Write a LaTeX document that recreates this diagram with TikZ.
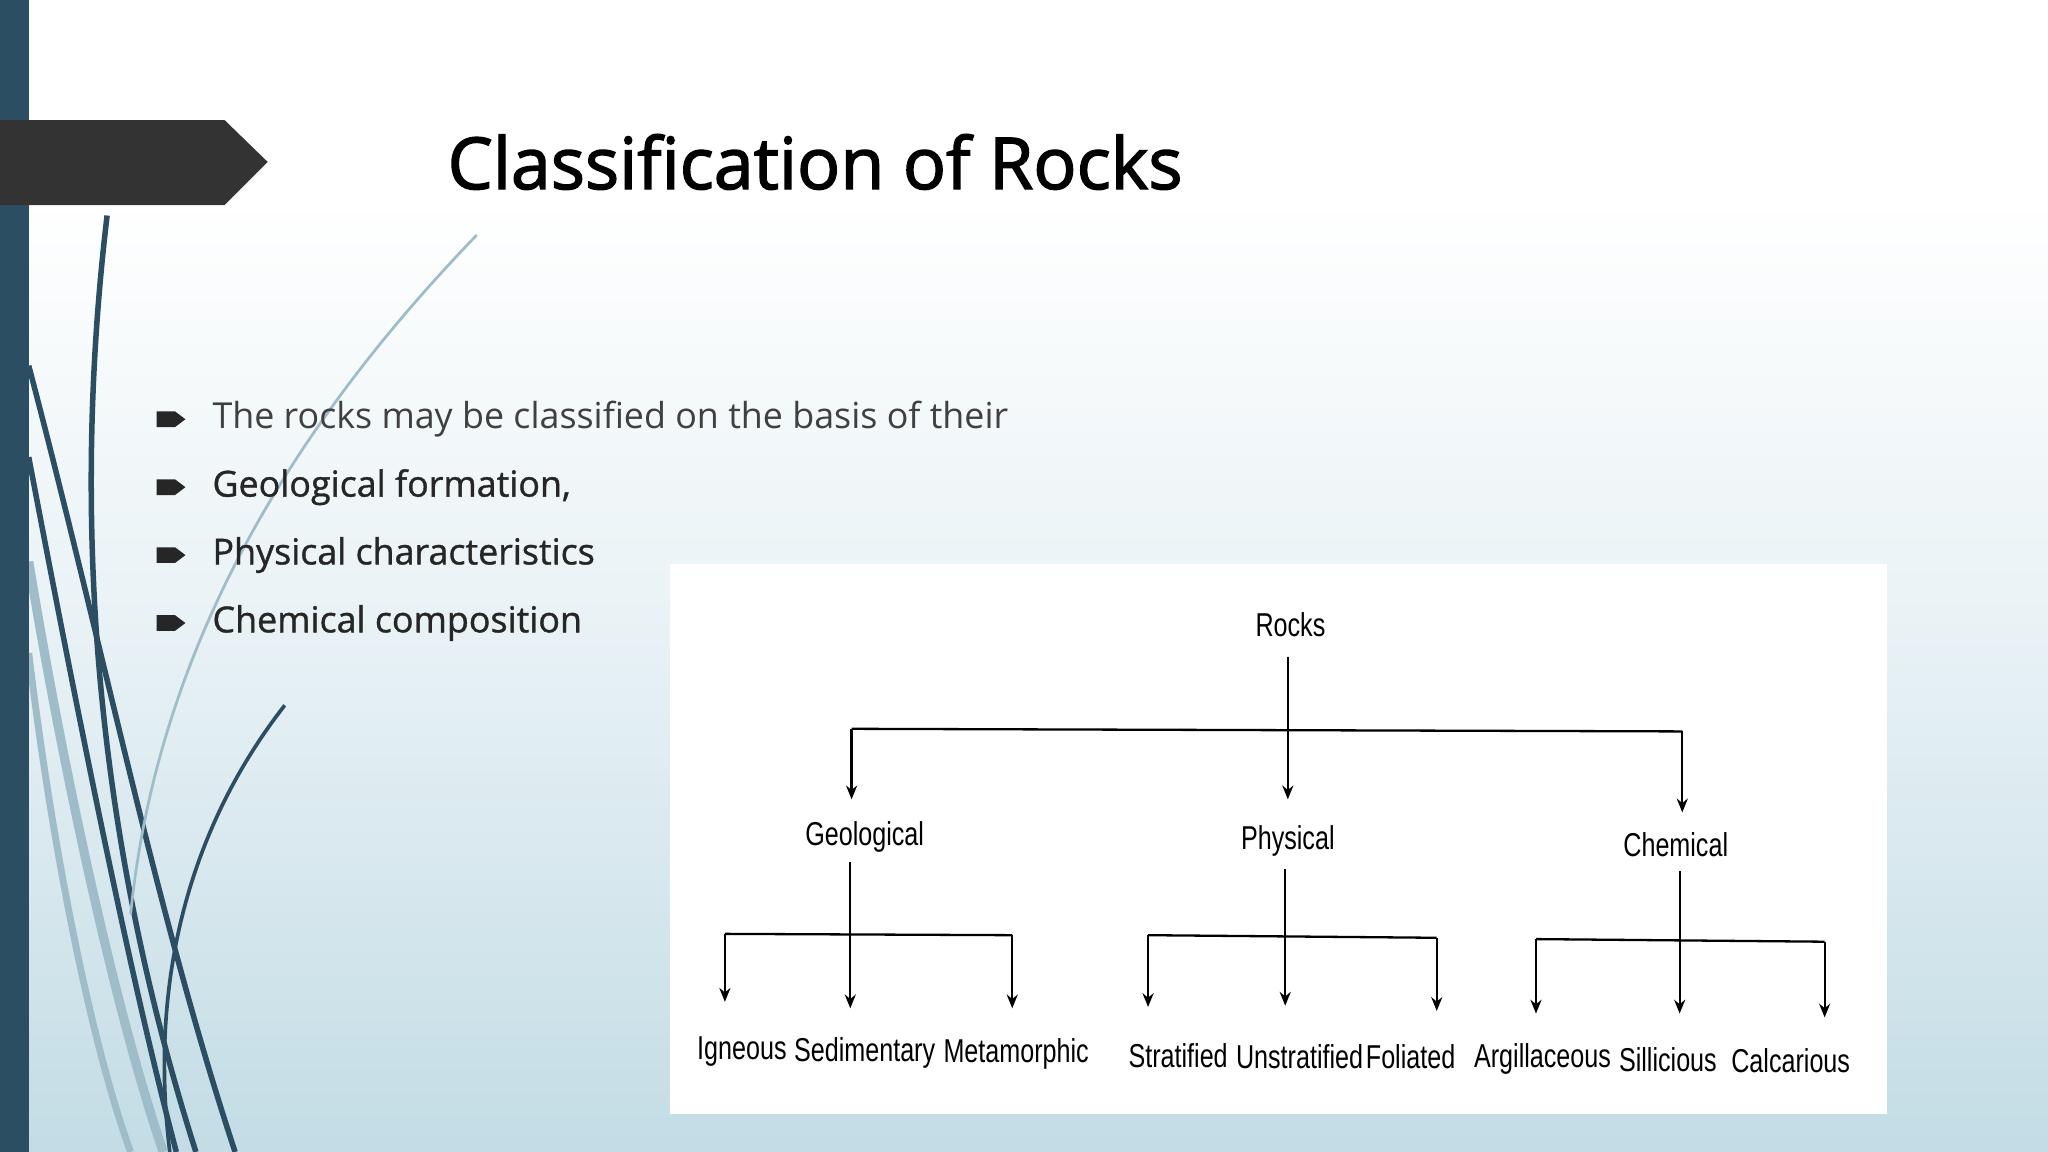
\documentclass[tikz,border=0pt]{standalone}
\usepackage{fontspec}
\usepackage{graphicx}
\setmainfont{Open Sans}
\newfontfamily\semib[FakeBold=2]{Open Sans}
\newfontfamily\semibt[FakeBold=1]{Open Sans}
\newfontfamily\diag{Liberation Sans}
\usetikzlibrary{arrows.meta}
\definecolor{bgb}{HTML}{C3DCE5}
\definecolor{bar}{HTML}{2C4E62}
\definecolor{curveA}{HTML}{2C4E62}
\definecolor{curveB}{HTML}{9FBCC9}
\definecolor{txt}{HTML}{404040}
\newcommand{\nar}[1]{\scalebox{0.76}[1]{#1}}
\tikzset{
 lbl/.style={font=\diag\fontsize{7.2}{8}\selectfont, inner sep=0pt},
 conn/.style={line width=0.5pt, black},
 arr/.style={conn, -{Stealth[length=3pt,width=2.4pt]}},
 bul/.style={anchor=west, font=\fontsize{7.8}{10}\selectfont, inner sep=0pt, text=txt},
}
\begin{document}
\begin{tikzpicture}[x=0.01cm,y=-0.01cm]
\useasboundingbox (0,0) rectangle (1568,882);
\fill[white] (0,0) rectangle (1568,150);
\shade[top color=white, bottom color=white!60!bgb] (0,150) rectangle (1568,500);
\shade[top color=white!60!bgb, bottom color=bgb] (0,500) rectangle (1568,882);
% curves
\draw[curveA, line width=1.2pt] (82,165) .. controls (60,350) and (60,600) .. (150,882);
\draw[curveA, line width=1.2pt] (22,280) .. controls (80,500) and (120,700) .. (180,882);
\draw[curveA, line width=1.2pt] (22,350) .. controls (60,550) and (100,750) .. (135,882);
\draw[curveA, line width=0.8pt] (218,540) .. controls (140,640) and (115,760) .. (130,882);
\draw[curveB, line width=2pt] (22,430) .. controls (50,600) and (90,780) .. (125,882);
\draw[curveB, line width=1.5pt] (22,500) .. controls (40,650) and (70,800) .. (100,882);
\draw[curveB, line width=0.6pt] (365,180) .. controls (220,330) and (120,500) .. (100,700);
\fill[bar] (0,0) rectangle (22,882);
\fill[black!80] (0,92) -- (172,92) -- (205,124) -- (172,157) -- (0,157) -- cycle;
\node[anchor=west, inner sep=0pt, font=\semib\fontsize{15.6}{20}\selectfont] (title) at (342,124) {Classification of Rocks};
\foreach \yy/\t [count=\i] in {321/{The rocks may be classified on the basis of their},373/{\semibt\textcolor{black!85}{Geological formation,}},425/{\semibt\textcolor{black!85}{Physical characteristics}},477/{\semibt\textcolor{black!85}{Chemical composition}}}{
 \node[bul] (b\i) at (162,\yy) {\t};
 \fill[black!85] (120,\yy-6) -- (134,\yy-6) -- (142,\yy) -- (134,\yy+6) -- (120,\yy+6) -- cycle;
}
% diagram
\fill[white] (513,432) rectangle (1445,853);
\node[lbl] (rocks) at (988,478) {\nar{Rocks}};
\node[lbl] (geo) at (662,641) {\nar{Geological}};
\node[lbl] (phy) at (986,644) {\nar{Physical}};
\node[lbl] (che) at (1283,647) {\nar{Chemical}};
\node[lbl] (ig) at (568,805) {\nar{Igneous}};
\node[lbl] (se) at (662,806) {\nar{Sedimentary}};
\node[lbl] (me) at (778,807) {\nar{Metamorphic}};
\node[lbl] (st) at (902,808) {\nar{Stratified}};
\node[lbl] (un) at (995,809) {\nar{Unstratified}};
\node[lbl] (fo) at (1080,809) {\nar{Foliated}};
\node[lbl] (ar) at (1181,811) {\nar{Argillaceous}};
\node[lbl] (si) at (1277,811) {\nar{Sillicious}};
\node[lbl] (ca) at (1371,812) {\nar{Calcarious}};
\coordinate (h1) at (652,558); \coordinate (h2) at (1288,560);
\draw[arr] (986,503) -- (986,612);
\draw[conn] (h1) -- (h2);
\draw[arr] (h1) -- (652,612);
\draw[arr] (h2) -- (1288,622);
% geological
\coordinate (g1) at (555,715); \coordinate (g2) at (775,716);
\draw[arr] (651,660) -- (651,772);
\draw[conn] (g1) -- (g2);
\draw[arr] (g1) -- (555,767);
\draw[arr] (g2) -- (775,772);
% physical
\coordinate (p1) at (879,716); \coordinate (p2) at (1100,718);
\draw[arr] (984,665) -- (984,770);
\draw[conn] (p1) -- (p2);
\draw[arr] (p1) -- (879,771);
\draw[arr] (p2) -- (1100,774);
% chemical
\coordinate (c1) at (1176,719); \coordinate (c2) at (1397,721);
\draw[arr] (1286,667) -- (1286,776);
\draw[conn] (c1) -- (c2);
\draw[arr] (c1) -- (1176,776);
\draw[arr] (c2) -- (1397,779);
\end{tikzpicture}
\end{document}
